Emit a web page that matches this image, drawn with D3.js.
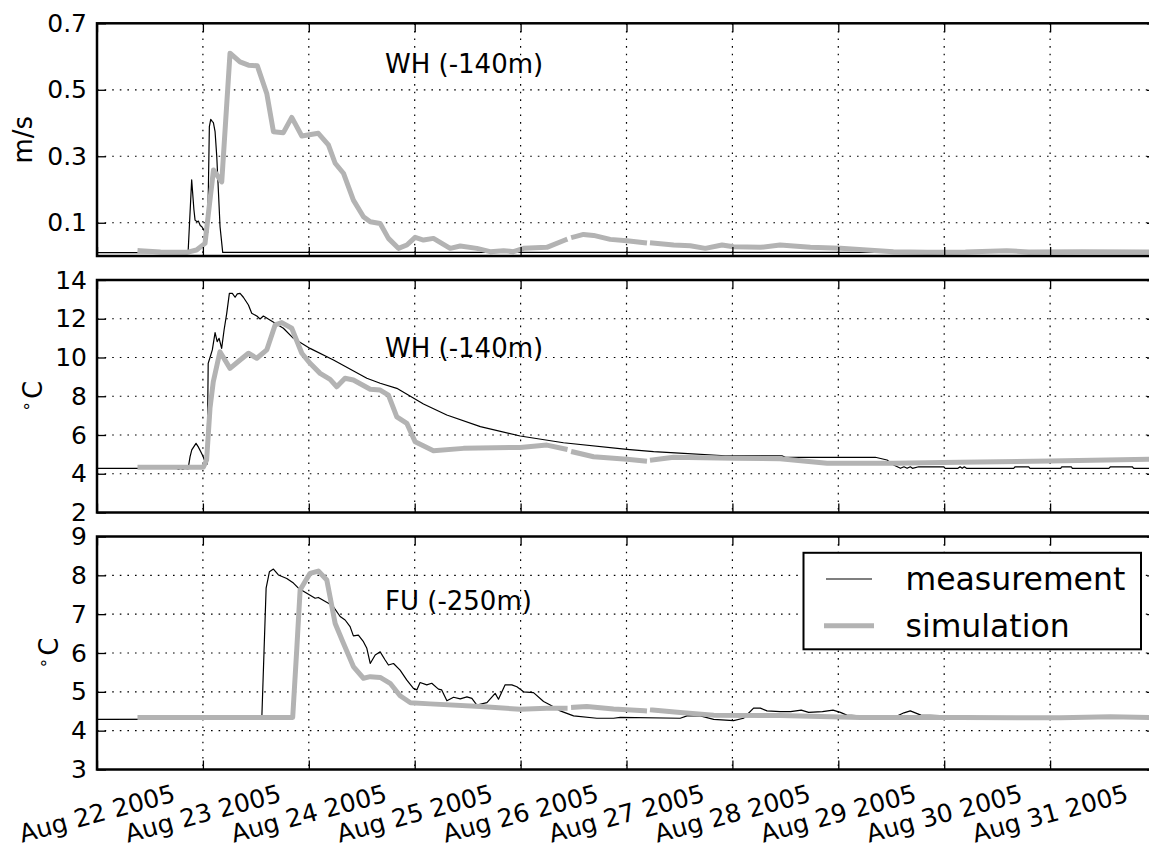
<!DOCTYPE html>
<html>
<head>
<meta charset="utf-8">
<script src="https://cdn.jsdelivr.net/npm/d3@7"></script>
<style>
  body { margin: 0; background: #fff; }
  svg { display: block; }
  text { font-family: "DejaVu Sans", "Bitstream Vera Sans", sans-serif; fill: #000; }
</style>
</head>
<body>
<svg id="chart" width="1149" height="848"></svg>
<script>
// Time values are fractional days after 22 Aug 2005 00:00 UTC.
// A null value breaks the line (missing record).

// Current speed at WH (-140 m), m/s
const speedMeasured = [
  [0, 0.01], [0.86, 0.01], [0.894, 0.229], [0.915, 0.14], [0.926, 0.108], [0.945, 0.103],
  [0.957, 0.105], [0.975, 0.092], [0.99, 0.088], [1.01, 0.078], [1.03, 0.063], [1.045, 0.07],
  [1.061, 0.389], [1.074, 0.411], [1.088, 0.405], [1.099, 0.401], [1.115, 0.374], [1.131, 0.299],
  [1.146, 0.198], [1.162, 0.088], [1.187, 0.011], [9.95, 0.011]
];
const speedSimulated = [
  [0.406, 0.016], [0.6, 0.012], [0.847, 0.011], [0.94, 0.018], [1.02, 0.038], [1.06, 0.15],
  [1.10, 0.259], [1.14, 0.24], [1.178, 0.223], [1.256, 0.61], [1.35, 0.584], [1.43, 0.574],
  [1.514, 0.572], [1.603, 0.489], [1.666, 0.374], [1.76, 0.371], [1.839, 0.417], [1.934, 0.361],
  [2.09, 0.369], [2.185, 0.334], [2.249, 0.279], [2.327, 0.249], [2.421, 0.168], [2.516, 0.118],
  [2.58, 0.103], [2.674, 0.098], [2.752, 0.053], [2.846, 0.023], [2.926, 0.033], [3.004, 0.056],
  [3.083, 0.048], [3.177, 0.053], [3.335, 0.023], [3.43, 0.030], [3.587, 0.023], [3.713, 0.013],
  [3.839, 0.016], [3.933, 0.013], [4.028, 0.023], [4.248, 0.026], [4.42, 0.048], [4.46, null],
  [4.50, 0.057], [4.594, 0.065], [4.689, 0.062], [4.846, 0.050], [5.004, 0.046], [5.17, 0.040],
  [5.21, null], [5.245, 0.039], [5.445, 0.033], [5.602, 0.031], [5.744, 0.023], [5.902, 0.033],
  [6.011, 0.028], [6.264, 0.026], [6.45, 0.033], [6.736, 0.026], [7.02, 0.023], [7.27, 0.018],
  [7.52, 0.013], [7.84, 0.011], [8.2, 0.012], [8.59, 0.016], [8.8, 0.012], [9.3, 0.013], [9.95, 0.012]
];

// Temperature at WH (-140 m), deg C
const whTempMeasured = [
  [0, 4.28], [0.75, 4.28], [0.77, 4.22], [0.79, 4.28], [0.81, 4.22], [0.83, 4.28], [0.86, 4.25],
  [0.879, 4.88], [0.895, 5.23], [0.935, 5.57], [0.955, 5.40], [0.98, 5.14], [1.003, 4.88],
  [1.02, 4.62], [1.04, 4.50], [1.05, 9.70], [1.065, 9.96], [1.089, 10.39], [1.115, 11.28],
  [1.135, 10.82], [1.153, 10.99], [1.177, 10.47], [1.2, 11.42], [1.225, 12.28], [1.25, 13.31],
  [1.278, 13.31], [1.304, 13.11], [1.325, 13.28], [1.351, 13.31], [1.382, 13.11], [1.43, 12.71],
  [1.461, 12.28], [1.509, 12.14], [1.54, 11.99], [1.571, 12.14], [1.76, 11.51], [1.855, 10.99],
  [2.012, 10.47], [2.233, 9.87], [2.548, 8.93], [2.674, 8.67], [2.831, 8.41], [3.083, 7.60],
  [3.303, 7.03], [3.62, 6.43], [3.996, 5.95], [4.405, 5.60], [5.004, 5.26], [5.256, 5.14],
  [5.54, 5.05], [5.933, 4.93], [6.468, 4.93], [6.5, 4.85], [7.35, 4.85], [7.46, 4.71],
  [7.523, 4.45], [7.587, 4.28], [7.62, 4.36], [7.65, 4.28], [7.68, 4.36], [7.70, 4.28],
  [7.759, 4.36], [7.995, 4.36], [8.01, 4.28], [8.13, 4.28], [8.15, 4.36], [8.17, 4.28],
  [8.19, 4.36], [8.21, 4.28], [8.656, 4.28], [8.67, 4.36], [8.798, 4.36], [8.81, 4.28],
  [9.1, 4.28], [9.11, 4.36], [9.20, 4.36], [9.21, 4.28], [9.555, 4.28], [9.57, 4.36],
  [9.776, 4.36], [9.79, 4.28], [9.95, 4.28]
];
const whTempSimulated = [
  [0.406, 4.33], [1.004, 4.33], [1.035, 4.71], [1.067, 7.38], [1.098, 8.75], [1.161, 10.30],
  [1.256, 9.44], [1.351, 9.87], [1.43, 10.22], [1.509, 9.96], [1.603, 10.39], [1.682, 11.68],
  [1.745, 11.80], [1.839, 11.51], [1.934, 10.22], [2.012, 9.70], [2.107, 9.18], [2.201, 8.87],
  [2.264, 8.49], [2.342, 8.93], [2.421, 8.84], [2.58, 8.36], [2.674, 8.32], [2.752, 8.06],
  [2.831, 6.94], [2.926, 6.60], [3.004, 5.65], [3.177, 5.19], [3.46, 5.31], [3.996, 5.36],
  [4.248, 5.48], [4.42, 5.28], [4.46, null], [4.50, 5.12], [4.689, 4.88], [5.004, 4.75],
  [5.17, 4.66], [5.21, null], [5.245, 4.71], [5.445, 4.85], [6.011, 4.80], [6.45, 4.78],
  [6.894, 4.54], [7.52, 4.54], [8.15, 4.59], [9.0, 4.66], [9.95, 4.75]
];

// Temperature at FU (-250 m), deg C
const fuTempMeasured = [
  [0, 4.29], [1.556, 4.30], [1.597, 7.67], [1.628, 8.09], [1.666, 8.16], [1.713, 8.01],
  [1.792, 7.92], [1.855, 7.80], [1.902, 7.67], [1.981, 7.54], [2.06, 7.41], [2.09, 7.43],
  [2.185, 7.28], [2.233, 7.19], [2.296, 6.94], [2.343, 6.85], [2.39, 6.68], [2.421, 6.44],
  [2.468, 6.46], [2.516, 6.29], [2.548, 6.12], [2.58, 5.73], [2.627, 5.95], [2.674, 6.03],
  [2.721, 5.82], [2.752, 5.69], [2.8, 5.73], [2.862, 5.56], [2.926, 5.30], [2.988, 5.09],
  [3.02, 5.05], [3.051, 5.24], [3.114, 5.18], [3.161, 5.22], [3.224, 5.07], [3.255, 5.05],
  [3.304, 4.77], [3.367, 4.86], [3.43, 4.82], [3.493, 4.87], [3.54, 4.83], [3.587, 4.66],
  [3.682, 4.72], [3.76, 4.96], [3.791, 4.81], [3.854, 5.18], [3.917, 5.18], [3.965, 5.13],
  [4.028, 5.00], [4.122, 4.98], [4.217, 4.75], [4.28, 4.66], [4.374, 4.51], [4.50, 4.38],
  [4.72, 4.32], [4.878, 4.32], [4.941, 4.34], [5.508, 4.32], [5.571, 4.38], [5.697, 4.38],
  [5.823, 4.29], [6.011, 4.26], [6.105, 4.32], [6.2, 4.58], [6.264, 4.58], [6.327, 4.51],
  [6.45, 4.49], [6.55, 4.49], [6.65, 4.53], [6.72, 4.47], [6.85, 4.49], [6.95, 4.53],
  [7.02, 4.47], [7.08, 4.40], [7.3, 4.37], [7.55, 4.37], [7.62, 4.46], [7.68, 4.51],
  [7.78, 4.40], [8.5, 4.35], [9.95, 4.35]
];
const fuTempSimulated = [
  [0.406, 4.34], [1.848, 4.34], [1.886, 6.08], [1.918, 7.62], [1.965, 7.84], [2.012, 8.05],
  [2.09, 8.11], [2.17, 7.88], [2.249, 6.76], [2.327, 6.25], [2.421, 5.65], [2.516, 5.35],
  [2.58, 5.39], [2.674, 5.37], [2.768, 5.22], [2.862, 4.90], [2.96, 4.72], [3.146, 4.69],
  [3.62, 4.62], [3.996, 4.55], [4.248, 4.58], [4.42, 4.58], [4.46, null], [4.50, 4.60],
  [4.625, 4.62], [4.878, 4.56], [5.17, 4.51], [5.21, null], [5.245, 4.53], [5.508, 4.47],
  [5.823, 4.40], [6.45, 4.39], [7.208, 4.34], [8.15, 4.34], [9.1, 4.33], [9.57, 4.36], [9.95, 4.34]
];

// Axis ticks and labels
const dayTicks = d3.range(0, 10);          // Aug 22 .. Aug 31
const speedTicks = [0.1, 0.3, 0.5, 0.7];
const whTempTicks = [2, 4, 6, 8, 10, 12, 14];
const fuTempTicks = [3, 4, 5, 6, 7, 8, 9];
const panelNotes = ["WH (-140m)", "WH (-140m)", "FU (-250m)"];
const seriesNames = ["measurement", "simulation"];

const t0 = Date.UTC(2005, 7, 22);
const toDate = d => new Date(t0 + d * 864e5);

const svg = d3.select("#chart");
const left = 97, right = 1156;
const x = d3.scaleUtc().domain([toDate(0), toDate(10)]).range([left, right]);

const panels = [
  { top: 23.3, bottom: 256, domain: [0, 0.7], ticks: speedTicks, fmt: d3.format(".1f"),
    meas: speedMeasured, sim: speedSimulated, note: panelNotes[0], noteY: 73,
    ylabel: ["m/s"], ylabelX: 32 },
  { top: 280, bottom: 512.5, domain: [2, 14], ticks: whTempTicks, fmt: d3.format("d"),
    meas: whTempMeasured, sim: whTempSimulated, note: panelNotes[1], noteY: 357,
    ylabel: ["\u2218", "C"], ylabelX: 41.5 },
  { top: 536.5, bottom: 769.5, domain: [3, 9], ticks: fuTempTicks, fmt: d3.format("d"),
    meas: fuTempMeasured, sim: fuTempSimulated, note: panelNotes[2], noteY: 610,
    ylabel: ["\u2218", "C"], ylabelX: 58 }
];

const gridDash = "1.6,6";
const simColor = "#b3b3b3";

panels.forEach((p, i) => {
  const y = d3.scaleLinear().domain(p.domain).range([p.bottom, p.top]);
  const g = svg.append("g");
  const clipId = "clip" + i;
  svg.append("clipPath").attr("id", clipId)
    .append("rect").attr("x", left).attr("y", p.top).attr("width", right - left).attr("height", p.bottom - p.top);

  // grid
  g.append("g").selectAll("line").data(p.ticks.filter(v => v > p.domain[0] && v < p.domain[1]))
    .join("line")
    .attr("x1", left).attr("x2", right).attr("y1", d => y(d)).attr("y2", d => y(d))
    .attr("stroke", "#000").attr("stroke-width", 1.2).attr("stroke-dasharray", gridDash);
  g.append("g").selectAll("line").data(dayTicks.filter(d => d > 0))
    .join("line")
    .attr("x1", d => x(toDate(d))).attr("x2", d => x(toDate(d)))
    .attr("y1", p.top).attr("y2", p.bottom)
    .attr("stroke", "#000").attr("stroke-width", 1.2).attr("stroke-dasharray", gridDash);

  // series: measurement first, simulation drawn over it
  const line = d3.line()
    .defined(d => d[1] != null)
    .x(d => x(toDate(d[0])))
    .y(d => y(d[1]));
  const lines = g.append("g").attr("clip-path", `url(#${clipId})`);
  lines.append("path").datum(p.meas).attr("d", line)
    .attr("fill", "none").attr("stroke", "#000").attr("stroke-width", 1.2)
    .attr("stroke-linejoin", "round");
  lines.append("path").datum(p.sim).attr("d", line)
    .attr("fill", "none").attr("stroke", simColor).attr("stroke-width", 5)
    .attr("stroke-linecap", "square").attr("stroke-linejoin", "round");

  // ticks (inward on all sides)
  const yl = g.append("g").attr("transform", `translate(${left},0)`)
    .call(d3.axisLeft(y).tickValues(p.ticks).tickFormat(p.fmt).tickSize(-9).tickPadding(10));
  const yr = g.append("g").attr("transform", `translate(${right},0)`)
    .call(d3.axisRight(y).tickValues(p.ticks).tickFormat("").tickSize(-9));
  const xb = g.append("g").attr("transform", `translate(0,${p.bottom})`)
    .call(d3.axisBottom(x).tickValues(dayTicks.map(toDate)).tickFormat("").tickSize(-9));
  const xt = g.append("g").attr("transform", `translate(0,${p.top})`)
    .call(d3.axisTop(x).tickValues(dayTicks.map(toDate)).tickFormat("").tickSize(-9));
  [yl, yr, xb, xt].forEach(a => {
    a.select(".domain").remove();
    a.selectAll(".tick line").attr("stroke", "#000").attr("stroke-width", 1.3);
  });
  yl.selectAll(".tick text").attr("font-size", 25).attr("font-family", "DejaVu Sans").attr("fill", "#000");

  // frame
  g.append("rect").attr("x", left).attr("y", p.top)
    .attr("width", right - left).attr("height", p.bottom - p.top)
    .attr("fill", "none").attr("stroke", "#000").attr("stroke-width", 2.5);

  // panel note
  g.append("text").attr("x", 385).attr("y", p.noteY).attr("font-size", 26).text(p.note);

  // y label
  const cy = (p.top + p.bottom) / 2;
  const lab = g.append("text")
    .attr("transform", `translate(${p.ylabelX},${cy}) rotate(-90)`)
    .attr("text-anchor", "middle").attr("font-size", 26);
  if (p.ylabel.length === 1) {
    lab.text(p.ylabel[0]);
  } else {
    lab.append("tspan").attr("font-size", 17).attr("dy", "-0.55em").text(p.ylabel[0]);
    lab.append("tspan").attr("dy", "0.36em").attr("dx", "2").text(p.ylabel[1]);
  }

  // date labels under the last panel
  if (i === panels.length - 1) {
    g.append("g").selectAll("text").data(dayTicks).join("text")
      .attr("transform", d => `translate(${x(toDate(d))},${p.bottom + 44}) rotate(-15)`)
      .attr("text-anchor", "middle").attr("dy", "0.35em").attr("font-size", 25)
      .text(d => d3.utcFormat("%b %d %Y")(toDate(d)));

    // legend
    const lg = g.append("g");
    lg.append("rect").attr("x", 803.5).attr("y", 552.8).attr("width", 337.5).attr("height", 96.5)
      .attr("fill", "#fff").attr("stroke", "#000").attr("stroke-width", 2);
    lg.append("line").attr("x1", 826).attr("x2", 872).attr("y1", 579).attr("y2", 579)
      .attr("stroke", "#000").attr("stroke-width", 1.2);
    lg.append("line").attr("x1", 826.5).attr("x2", 871.5).attr("y1", 625.7).attr("y2", 625.7)
      .attr("stroke", simColor).attr("stroke-width", 5).attr("stroke-linecap", "square");
    lg.append("text").attr("x", 905.5).attr("y", 590).attr("font-size", 31.5).text(seriesNames[0]);
    lg.append("text").attr("x", 905.5).attr("y", 637).attr("font-size", 31.5).text(seriesNames[1]);
  }
});
</script>
</body>
</html>
